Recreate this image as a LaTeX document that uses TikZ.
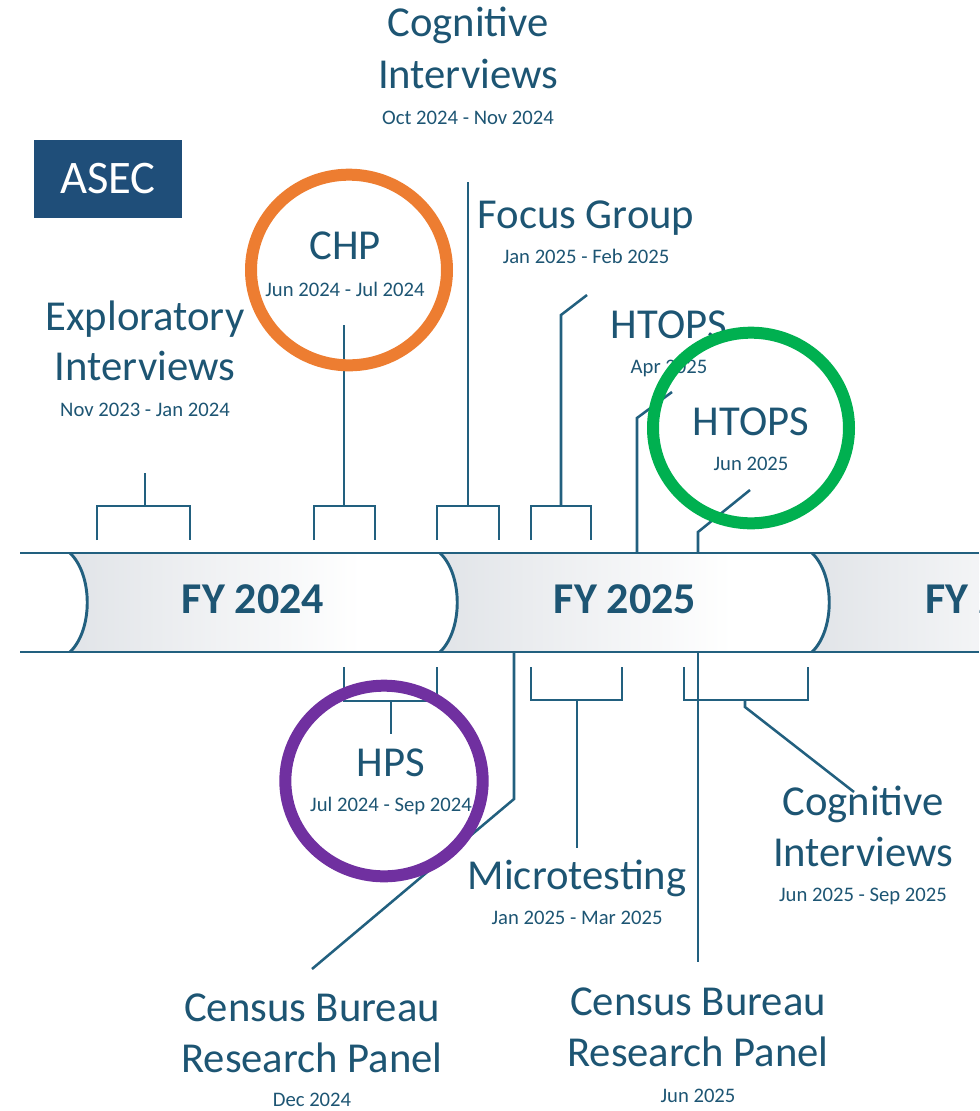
\documentclass[tikz,border=0pt]{standalone}
\usepackage{fontspec}
\setmainfont{Carlito}
\definecolor{ln}{HTML}{22607F}
\definecolor{tx}{HTML}{1D5573}
\definecolor{asec}{HTML}{1F4E79}
\definecolor{orng}{HTML}{ED7D31}
\definecolor{grn}{HTML}{00B050}
\definecolor{purp}{HTML}{7030A0}
\definecolor{segg}{HTML}{E1E4E8}
\pgfdeclarehorizontalshading{segsh}{100bp}{color(0bp)=(segg); color(25bp)=(segg); color(62bp)=(white); color(100bp)=(white)}
\begin{document}
\begin{tikzpicture}[x=0.75pt,y=-0.75pt,
  conn/.style={draw=ln,line width=1.9pt},
  band/.style={draw=ln,line width=2.2pt},
  big/.style={text=tx,font=\fontsize{32}{39}\selectfont,inner sep=0pt,anchor=base},
  datelbl/.style={text=tx,font=\fontsize{15.5}{18}\selectfont,inner sep=0pt,anchor=base},
  fy/.style={text=tx,font=\fontsize{33}{40}\selectfont\bfseries,inner sep=0pt,anchor=base},
  ring/.style={line width=9pt}]
\useasboundingbox (0,0) rectangle (979,1111);
\clip (0,0) rectangle (979,1111);

% timeline band
\shade[shading=segsh] (70,553) .. controls (93,575) and (93,630) .. (70,652) -- (440,652) .. controls (463,630) and (463,575) .. (440,553) -- cycle;
\shade[shading=segsh] (440,553) .. controls (463,575) and (463,630) .. (440,652) -- (812,652) .. controls (835,630) and (835,575) .. (812,553) -- cycle;
\shade[shading=segsh] (812,553) .. controls (835,575) and (835,630) .. (812,652) -- (1180,652) -- (1180,553) -- cycle;
\draw[band] (70,553) .. controls (93,575) and (93,630) .. (70,652);
\draw[band] (440,553) .. controls (463,575) and (463,630) .. (440,652);
\draw[band] (812,553) .. controls (835,575) and (835,630) .. (812,652);
\draw[band] (20,553) -- (979,553);
\draw[band] (20,652) -- (979,652);

\node[fy] (fy24) at (253,613) {FY 2024};
\node[fy] (fy25) at (625,613) {FY 2025};
\node[fy,anchor=base west] (fy26) at (925,613) {FY 2};

% ASEC box
\node[fill=asec,text=white,font=\fontsize{35}{40}\selectfont,minimum width=111pt,minimum height=58.5pt,inner sep=0pt] (asec) at (108,179) {ASEC};

% labels above
\node[big] (cogA) at (468,36) {Cognitive};
\node[big] (cogB) at (468,88) {Interviews};
\node[datelbl] (cogD) at (468,124) {Oct 2024 - Nov 2024};
\node[big] (focus) at (586,228) {Focus Group};
\node[datelbl] (focusD) at (586,263) {Jan 2025 - Feb 2025};
\node[big] (chp) at (345,259) {CHP};
\node[datelbl] (chpD) at (345,296) {Jun 2024 - Jul 2024};
\node[big] (expA) at (145,330) {Exploratory};
\node[big] (expB) at (145,380) {Interviews};
\node[datelbl] (expD) at (145,416) {Nov 2023 - Jan 2024};
\node[big] (htA) at (669,338) {HTOPS};
\node[datelbl] (htAD) at (669,373) {Apr 2025};
\node[big] (htB) at (751,435) {HTOPS};
\node[datelbl] (htBD) at (751,470) {Jun 2025};

% labels below
\node[big] (hps) at (391,776) {HPS};
\node[datelbl] (hpsD) at (391,811) {Jul 2024 - Sep 2024};
\node[big] (micro) at (577,889) {Microtesting};
\node[datelbl] (microD) at (577,924) {Jan 2025 - Mar 2025};
\node[big] (cog2A) at (863,815) {Cognitive};
\node[big] (cog2B) at (863,866) {Interviews};
\node[datelbl] (cog2D) at (863,901) {Jun 2025 - Sep 2025};
\node[big] (cbA) at (312,1021) {Census Bureau};
\node[big] (cbB) at (312,1072) {Research Panel};
\node[datelbl] (cbD) at (312,1106) {Dec 2024};
\node[big] (cb2A) at (698,1015) {Census Bureau};
\node[big] (cb2B) at (698,1066) {Research Panel};
\node[datelbl] (cb2D) at (698,1102) {Jun 2025};

% connector end points
\coordinate (eExp) at (145,473);
\coordinate (eChp) at (344,325);
\coordinate (eCog) at (468,182);
\coordinate (eFoc) at (587,295);
\coordinate (eHtA) at (672,392);
\coordinate (eHtB) at (750,490);
\coordinate (eHps) at (391,734);
\coordinate (eCb) at (312,969);
\coordinate (eMic) at (577,848);
\coordinate (eCb2) at (698,962);
\coordinate (eCog2) at (854,792);

% brackets above
\draw[conn] (97,540) |- (190,506) -- (190,540);
\draw[conn] (145,506) -- (eExp);
\draw[conn] (314,540) |- (375,506) -- (375,540);
\draw[conn] (344,506) -- (eChp);
\draw[conn] (437,540) |- (499,506) -- (499,540);
\draw[conn] (468,506) -- (eCog);
\draw[conn] (531,540) |- (591,506) -- (591,540);
\draw[conn] (561,506) -- (561,315) -- (eFoc);
\draw[conn] (637,553) -- (637,418) -- (eHtA);
\draw[conn] (698,553) -- (698,532) -- (eHtB);

% brackets below
\draw[conn] (344,667) |- (437,701) -- (437,667);
\draw[conn] (391,701) -- (eHps);
\draw[conn] (514,652) -- (514,799) -- (eCb);
\draw[conn] (531,667) |- (622,700) -- (622,667);
\draw[conn] (577,700) -- (eMic);
\draw[conn] (698,652) -- (eCb2);
\draw[conn] (684,667) |- (808,700) -- (808,667);
\draw[conn] (745,700) -- (745,707) -- (eCog2);

% highlight rings
\draw[orng,ring] (349,270) ellipse [x radius=73.5pt,y radius=71.5pt];
\draw[grn,ring] (751,428) ellipse [x radius=73.5pt,y radius=71.5pt];
\draw[purp,ring] (384,781) ellipse [x radius=74pt,y radius=71.5pt];
\end{tikzpicture}
\end{document}
